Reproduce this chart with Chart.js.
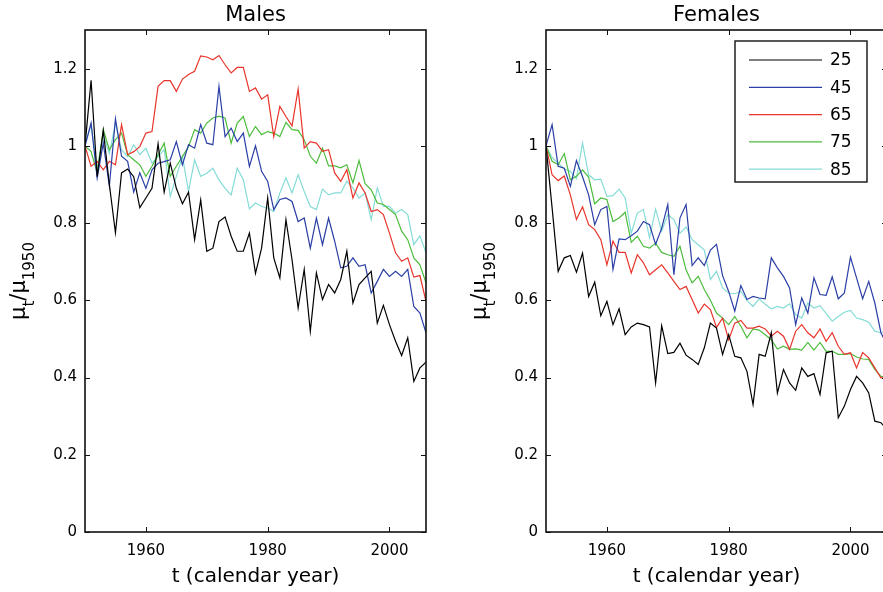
<!DOCTYPE html>
<html><head><meta charset="utf-8">
<script src="https://cdn.jsdelivr.net/npm/chart.js@4/dist/chart.umd.min.js"></script>
<style>
html,body{margin:0;padding:0;background:#fff;overflow:hidden;width:883px;height:592px;position:relative}
#wrapL{position:absolute;left:0;top:0;width:450px;height:592px}
#wrapR{position:absolute;left:461px;top:0;width:450px;height:592px}
</style></head><body>
<div id="wrapL"><canvas id="cL" width="450" height="592"></canvas></div>
<div id="wrapR"><canvas id="cR" width="450" height="592"></canvas></div>
<script>
const years = [1950,1951,1952,1953,1954,1955,1956,1957,1958,1959,1960,1961,1962,1963,1964,1965,1966,1967,1968,1969,1970,1971,1972,1973,1974,1975,1976,1977,1978,1979,1980,1981,1982,1983,1984,1985,1986,1987,1988,1989,1990,1991,1992,1993,1994,1995,1996,1997,1998,1999,2000,2001,2002,2003,2004,2005,2006];
const ages = ['25','45','65','75','85'];
const panelTitles = ['Males','Females'];
const xTicks = [1960,1980,2000];
const yTicks = [0,0.2,0.4,0.6,0.8,1,1.2];

const males25 = [1.00,1.17,0.92,1.04,0.90,0.775,0.93,0.94,0.92,0.84,0.865,0.89,1.005,0.88,0.955,0.89,0.85,0.88,0.757,0.86,0.727,0.735,0.804,0.816,0.766,0.727,0.727,0.774,0.67,0.735,0.865,0.71,0.658,0.809,0.705,0.58,0.68,0.52,0.671,0.602,0.641,0.619,0.654,0.727,0.593,0.641,0.658,0.675,0.541,0.587,0.537,0.494,0.457,0.503,0.39,0.425,0.44];
const males45 = [1.00,1.059,0.917,1.007,0.896,1.07,0.973,0.96,0.88,0.93,0.89,0.938,0.955,0.959,0.964,1.011,0.951,1.003,0.994,1.055,1.007,1.003,1.154,1.024,1.046,1.011,1.033,0.947,1.0,0.934,0.908,0.835,0.861,0.865,0.856,0.804,0.813,0.735,0.813,0.744,0.813,0.753,0.684,0.688,0.71,0.688,0.692,0.619,0.649,0.68,0.662,0.675,0.662,0.68,0.584,0.567,0.516];
const males65 = [1.00,0.947,0.96,0.938,0.96,0.951,1.055,0.977,0.985,0.998,1.033,1.037,1.154,1.169,1.169,1.141,1.173,1.185,1.193,1.233,1.23,1.223,1.234,1.21,1.189,1.203,1.203,1.141,1.15,1.121,1.132,1.024,1.102,1.076,1.052,1.147,0.994,1.011,1.007,0.986,0.99,0.93,0.908,0.938,0.865,0.904,0.878,0.83,0.835,0.822,0.774,0.723,0.701,0.71,0.66,0.664,0.597];
const males75 = [1.00,0.985,0.93,1.042,0.99,1.016,1.033,0.977,0.964,0.951,0.921,0.947,0.977,1.007,0.921,0.947,0.972,0.998,1.042,1.033,1.059,1.072,1.077,1.072,1.007,1.059,1.076,1.024,1.05,1.029,1.037,1.033,1.024,1.061,1.042,1.04,1.016,0.973,0.955,0.994,0.948,0.948,0.943,0.951,0.904,0.962,0.902,0.886,0.852,0.848,0.835,0.822,0.779,0.757,0.71,0.692,0.645];
const males85 = [1.00,1.055,0.94,1.03,0.98,1.059,0.99,0.972,1.003,0.977,0.994,0.955,0.972,0.99,0.869,0.921,0.972,0.882,0.964,0.921,0.929,0.942,0.912,0.89,0.873,0.942,0.912,0.837,0.852,0.843,0.839,0.83,0.878,0.917,0.878,0.925,0.882,0.843,0.835,0.888,0.873,0.878,0.878,0.908,0.891,0.865,0.878,0.809,0.891,0.843,0.843,0.826,0.835,0.822,0.744,0.767,0.723];

const females25 = [1.00,0.84,0.675,0.71,0.716,0.673,0.722,0.61,0.647,0.56,0.597,0.537,0.578,0.511,0.531,0.541,0.537,0.531,0.386,0.534,0.462,0.465,0.489,0.458,0.447,0.434,0.477,0.541,0.528,0.46,0.511,0.455,0.451,0.416,0.33,0.46,0.455,0.516,0.36,0.421,0.386,0.367,0.425,0.403,0.41,0.356,0.464,0.468,0.296,0.326,0.369,0.403,0.386,0.36,0.287,0.283,0.265];
const females45 = [1.00,1.055,0.947,0.942,0.895,0.962,0.92,0.873,0.796,0.835,0.843,0.68,0.759,0.757,0.767,0.779,0.804,0.796,0.745,0.787,0.848,0.666,0.813,0.848,0.69,0.71,0.69,0.73,0.745,0.664,0.623,0.572,0.638,0.602,0.61,0.606,0.604,0.71,0.684,0.662,0.632,0.537,0.606,0.567,0.658,0.615,0.613,0.661,0.604,0.619,0.712,0.658,0.604,0.649,0.593,0.516,0.485];
const females65 = [1.00,0.925,0.91,0.922,0.873,0.809,0.842,0.796,0.783,0.757,0.692,0.753,0.724,0.724,0.671,0.718,0.697,0.666,0.679,0.692,0.671,0.649,0.628,0.636,0.602,0.567,0.59,0.576,0.53,0.554,0.498,0.541,0.548,0.528,0.528,0.533,0.526,0.507,0.52,0.507,0.473,0.52,0.537,0.516,0.503,0.526,0.494,0.516,0.481,0.46,0.464,0.425,0.465,0.451,0.425,0.399,0.40];
const females75 = [1.00,0.96,0.951,0.98,0.912,0.921,0.938,0.919,0.85,0.865,0.861,0.804,0.813,0.828,0.75,0.766,0.74,0.735,0.748,0.724,0.718,0.714,0.74,0.679,0.645,0.662,0.628,0.60,0.567,0.554,0.537,0.558,0.533,0.503,0.526,0.523,0.511,0.498,0.474,0.481,0.473,0.474,0.471,0.491,0.471,0.491,0.468,0.468,0.46,0.46,0.462,0.453,0.448,0.447,0.421,0.403,0.40];
const females85 = [1.00,0.97,0.955,0.94,0.934,0.915,1.007,0.925,0.912,0.914,0.869,0.871,0.888,0.865,0.774,0.826,0.835,0.762,0.836,0.779,0.822,0.809,0.774,0.79,0.757,0.744,0.73,0.654,0.675,0.632,0.619,0.617,0.623,0.60,0.584,0.604,0.59,0.578,0.584,0.58,0.591,0.563,0.554,0.593,0.58,0.586,0.566,0.546,0.558,0.569,0.574,0.554,0.55,0.543,0.52,0.516,0.52];

const colors = ['#000000','#2b3fa6','#e8352b','#4cbc3c','#86dcd6'];
const FONT = 'DejaVu Sans';

function makeDatasets(series){
  return series.map((vals,i)=>({
    label: ages[i],
    data: years.map((yr,j)=>({x:yr,y:vals[j]})),
    borderColor: colors[i],
    backgroundColor: colors[i],
    borderWidth: 1.2,
    pointRadius: 0,
    tension: 0,
    fill: false
  }));
}

const framePlugin = {
  id:'frame',
  afterDatasetsDraw(chart){
    const {ctx, chartArea:a, scales:{x,y}} = chart;
    ctx.save();
    ctx.strokeStyle='#111'; ctx.lineWidth=1;
    const tl=5;
    ctx.beginPath();
    x.ticks.forEach(t=>{const p=Math.round(x.getPixelForValue(t.value))+0.5;
      ctx.moveTo(p,a.bottom); ctx.lineTo(p,a.bottom-tl); ctx.moveTo(p,a.top); ctx.lineTo(p,a.top+tl);});
    y.ticks.forEach(t=>{const p=Math.round(y.getPixelForValue(t.value))+0.5;
      ctx.moveTo(a.left,p); ctx.lineTo(a.left+tl,p); ctx.moveTo(a.right,p); ctx.lineTo(a.right-tl,p);});
    ctx.stroke();
    ctx.lineWidth=1.6;
    ctx.strokeRect(a.left,a.top,a.right-a.left,a.bottom-a.top);
    ctx.restore();
  },
  afterDraw(chart){
    const {ctx, chartArea:a} = chart;
    ctx.save();
    ctx.fillStyle='#000';
    // panel title centred over the plot area
    ctx.font='21px "'+FONT+'"';
    ctx.textAlign='center'; ctx.textBaseline='middle';
    ctx.fillText(chart.options.plugins.panelTitle.text,(a.left+a.right)/2,16);
    // y-axis title with subscripts: mu_t / mu_1950
    ctx.textAlign='left';
    ctx.translate(25,(a.top+a.bottom)/2);
    ctx.rotate(-Math.PI/2);
    const big='21px "'+FONT+'"', small='15px "'+FONT+'"';
    const parts=[['\u03bc',big,0],['t',small,9],['/\u03bc',big,0],['1950',small,9]];
    let total=0;
    parts.forEach(p=>{ctx.font=p[1]; total+=ctx.measureText(p[0]).width;});
    let xx=-total/2;
    ctx.textBaseline='alphabetic';
    parts.forEach(p=>{ctx.font=p[1]; ctx.fillText(p[0],xx,p[2]); xx+=ctx.measureText(p[0]).width;});
    ctx.restore();
  }
};

const legendPlugin = {
  id:'boxLegend',
  afterDraw(chart){
    if(!chart.options.plugins.boxLegend || !chart.options.plugins.boxLegend.show) return;
    const {ctx, chartArea:a} = chart;
    const w=132, h=141;
    const left=a.right-20-w, top=a.top+11;
    ctx.save();
    ctx.fillStyle='#fff';
    ctx.fillRect(left,top,w,h);
    ctx.strokeStyle='#111'; ctx.lineWidth=1.4;
    ctx.strokeRect(left,top,w,h);
    ctx.font='17px "'+FONT+'"';
    ctx.textBaseline='middle';
    chart.data.datasets.forEach((ds,i)=>{
      const yy=top+19+i*27.3;
      ctx.strokeStyle=ds.borderColor; ctx.lineWidth=1.2;
      ctx.beginPath(); ctx.moveTo(left+14,yy); ctx.lineTo(left+87,yy); ctx.stroke();
      ctx.fillStyle='#000';
      ctx.fillText(ds.label,left+95,yy+1);
    });
    ctx.restore();
  }
};

function makeChart(id, titleText, series, showLegend){
  return new Chart(document.getElementById(id),{
    type:'line',
    data:{datasets: makeDatasets(series)},
    options:{
      responsive:false,
      animation:false,
      layout:{padding:{left:0,right:24,top:30,bottom:0}},
      plugins:{
        legend:{display:false},
        tooltip:{enabled:false},
        title:{display:false},
        panelTitle:{text:titleText},
        boxLegend:{show:showLegend}
      },
      scales:{
        x:{type:'linear',min:1950,max:2006,
          afterBuildTicks(s){s.ticks=xTicks.map(v=>({value:v}));},
          afterFit(s){s.height=60;},
          grid:{display:false,drawTicks:false},
          border:{display:false},
          ticks:{autoSkip:false,maxRotation:0,padding:10,color:'#000',font:{family:FONT,size:15},callback:v=>String(v)},
          title:{display:true,text:'t (calendar year)',color:'#000',font:{family:FONT,size:20},padding:{top:0,bottom:3}}
        },
        y:{type:'linear',min:0,max:1.3,
          afterBuildTicks(s){s.ticks=yTicks.map(v=>({value:v}));},
          afterFit(s){s.width=85;},
          grid:{display:false,drawTicks:false},
          border:{display:false},
          ticks:{autoSkip:false,padding:8,color:'#000',font:{family:FONT,size:15},callback:v=>String(v)}
        }
      }
    },
    plugins:[framePlugin,legendPlugin]
  });
}

makeChart('cL',panelTitles[0],[males25,males45,males65,males75,males85],false);
makeChart('cR',panelTitles[1],[females25,females45,females65,females75,females85],true);
</script>
</body></html>
